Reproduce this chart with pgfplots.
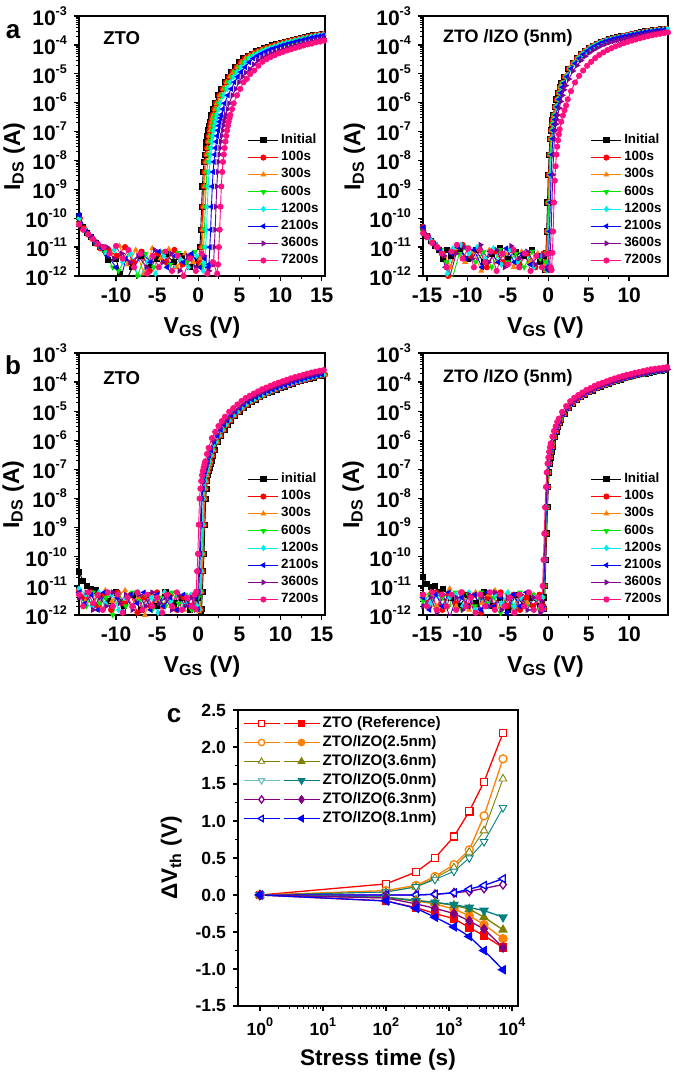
\documentclass[border=0pt]{standalone}
\usepackage{pgfplots}
\pgfplotsset{compat=1.18}
\usepackage{fontspec}
\setmainfont{Liberation Sans}

\definecolor{corange}{RGB}{255,128,0}
\definecolor{cgreen}{RGB}{0,230,0}
\definecolor{ccyan}{RGB}{0,240,240}
\definecolor{cblue}{RGB}{0,0,255}
\definecolor{cpurple}{RGB}{128,0,144}
\definecolor{cpink}{RGB}{255,16,128}
\definecolor{colive}{RGB}{128,128,0}
\definecolor{cteal}{RGB}{0,128,128}
\definecolor{cteallight}{RGB}{110,190,190}
\definecolor{cpurp}{RGB}{128,0,128}

\pgfkeys{/pgf/number format/assume math mode=true}

% small raised exponent for the power-of-ten tick labels
\newcommand{\sups}[1]{\raisebox{0.9ex}{\fontsize{6.3}{6.3}\selectfont #1}}

\pgfplotsset{
  s0/.style={color=black, mark=square*},
  s1/.style={color=red, mark=*},
  s2/.style={color=corange, mark=triangle*},
  s3/.style={color=cgreen, mark=triangle*, mark options={rotate=180}},
  s4/.style={color=ccyan, mark=diamond*},
  s5/.style={color=cblue, mark=triangle*, mark options={rotate=90}},
  s6/.style={color=cpurple, mark=triangle*, mark options={rotate=-90}},
  s7/.style={color=cpink, mark=*},
}

\begin{document}
\begin{tikzpicture}
\useasboundingbox (0,0) rectangle (337pt,-536pt);

\node[font=\bfseries\fontsize{13}{14}\selectfont] at (6.5pt,-16pt) {a};
\node[font=\bfseries\fontsize{13}{14}\selectfont] at (6.5pt,-182.5pt) {b};
\node[font=\bfseries\fontsize{13}{14}\selectfont] at (87pt,-358pt) {c};

% ---------------- a, left: ZTO, positive bias stress
\begin{axis}[at={(39.5pt,-8pt)}, anchor=north west,
  scale only axis, width=123pt, height=130pt,
  xmin=-14.5, xmax=15.4, xtick={-10,-5,0,5,10,15}, minor x tick num=1,
  ymode=log, ymin=1e-12, ymax=1e-3,
  ytick={1e-12,1e-11,1e-10,1e-9,1e-8,1e-7,1e-6,1e-5,1e-4,1e-3},
  yticklabels={10\sups{-12},10\sups{-11},10\sups{-10},10\sups{-9},10\sups{-8},10\sups{-7},10\sups{-6},10\sups{-5},10\sups{-4},10\sups{-3}},
  tick pos=left, tick align=outside,
  axis line style={line width=0.9pt},
  major tick style={black, line width=0.7pt}, minor tick style={black, line width=0.5pt},
  major tick length=2.5pt, minor tick length=1.4pt,
  ticklabel style={font=\bfseries\fontsize{10.5}{12}\selectfont},
  label style={font=\bfseries\fontsize{11.5}{13}\selectfont},
  xlabel={V\textsubscript{GS} (V)}, ylabel={I\textsubscript{DS} (A)},
  ylabel style={at={(axis description cs:-0.264,0.46)}, anchor=center},
  every axis plot/.append style={line width=0.45pt, mark size=1.3pt},
  legend cell align=left,
  legend style={draw=none, fill=none, inner sep=0pt, at={(0.985,0.025)}, anchor=south east,
    font=\bfseries\fontsize{6.7}{7}\selectfont, row sep=0pt, nodes={inner sep=1.2pt}},
  legend image code/.code={\draw[mark repeat=2,mark phase=2,#1] plot coordinates {(0pt,0pt)(7.5pt,0pt)(15pt,0pt)};},
]
\node[anchor=west, font=\bfseries\fontsize{9.3}{10}\selectfont] at (rel axis cs:0.07,0.915) {ZTO};
\addplot[s0] coordinates {(-14.5,1.2e-10)(-14,5e-11)(-13.5,3e-11)(-13,2.2e-11)(-12.5,1.4e-11)(-12,1e-11)(-11,3.5e-12)(-10,4e-12)(-9.5,1.2e-12)(-9,5e-13)(-8,2e-12)(-7,5e-12)(-6,2.5e-12)(-5,4e-12)(-4,6e-12)(-3,3e-12)(-2,5e-12)(-1,2e-12)(0,4e-12)
(0.1,2.5e-12)(0.2,1e-11)(0.3,4e-11)(0.4,2.5e-10)(0.5,1.26e-9)(0.6,4e-9)(0.7,8.9e-9)(0.8,1.6e-8)(0.9,2.7e-8)(1,4.5e-8)(1.1,7.1e-8)(1.2,1.1e-7)(1.3,1.6e-7)(1.4,2.2e-7)(1.5,2.95e-7)(1.6,3.8e-7)(1.8,6e-7)(2,9.5e-7)(2.4,1.8e-6)(2.8,3e-6)(3.2,5.1e-6)(3.6,7.9e-6)(4,1.15e-5)(4.5,1.7e-5)(5,2.5e-5)(5.5,3.4e-5)(6,4.2e-5)(6.5,5e-5)(7,5.9e-5)(7.5,6.8e-5)(8,7.6e-5)(8.5,8.5e-5)(9,9.5e-5)(9.5,1.05e-4)(10,1.15e-4)(10.5,1.26e-4)(11,1.38e-4)(11.5,1.48e-4)(12,1.62e-4)(12.5,1.74e-4)(13,1.86e-4)(13.5,2e-4)(14,2.14e-4)(14.5,2.24e-4)(15,2.34e-4)(15.5,2.45e-4)};
\addlegendentry{Initial}
\addplot[s1] coordinates {(-14.4,1e-10)(-13.9,4.5e-11)(-13.4,2.8e-11)(-12.9,2e-11)(-12.4,1.3e-11)(-11.9,9e-12)(-10.9,8e-12)(-9.9,5e-12)(-8.9,1e-11)(-7.9,3e-12)(-6.9,7e-12)(-5.9,1.5e-12)(-4.9,6e-12)(-3.9,3e-12)(-2.9,8e-12)(-1.9,2.5e-12)(-0.9,5e-12)(0.1,3e-12)
(0.25,2.5e-12)(0.35,1e-11)(0.45,4e-11)(0.55,2.5e-10)(0.65,1.26e-9)(0.75,4e-9)(0.85,8.9e-9)(0.95,1.6e-8)(1.05,2.7e-8)(1.15,4.5e-8)(1.25,7.1e-8)(1.35,1.1e-7)(1.45,1.6e-7)(1.55,2.2e-7)(1.65,2.95e-7)(1.75,3.8e-7)(1.95,6e-7)(2.15,9.5e-7)(2.55,1.8e-6)(2.95,3e-6)(3.35,5.1e-6)(3.75,7.9e-6)(4.15,1.15e-5)(4.65,1.7e-5)(5.15,2.5e-5)(5.65,3.4e-5)(6.15,4.2e-5)(6.65,5e-5)(7.15,5.9e-5)(7.65,6.8e-5)(8.15,7.6e-5)(8.65,8.5e-5)(9.15,9.5e-5)(9.65,1.05e-4)(10.15,1.15e-4)(10.65,1.26e-4)(11.15,1.38e-4)(11.65,1.48e-4)(12.15,1.62e-4)(12.65,1.74e-4)(13.15,1.86e-4)(13.65,2e-4)(14.15,2.14e-4)(14.65,2.24e-4)(15.15,2.34e-4)(15.65,2.45e-4)};
\addlegendentry{100s}
\addplot[s2] coordinates {(-14.5,8e-11)(-14,4e-11)(-13.3,2.5e-11)(-12.8,1.8e-11)(-12.2,1.2e-11)(-11.6,9e-12)(-10.6,6e-12)(-9.6,1.1e-11)(-8.6,2.5e-12)(-7.6,8e-12)(-6.6,1.2e-12)(-5.6,9e-12)(-4.6,4e-12)(-3.6,8.5e-12)(-2.6,2e-12)(-1.6,6e-12)(-0.6,3e-12)(0.2,4e-12)
(0.35,2.5e-12)(0.45,1e-11)(0.55,4e-11)(0.65,2.5e-10)(0.75,1.26e-9)(0.85,4e-9)(0.95,8.9e-9)(1.05,1.6e-8)(1.15,2.7e-8)(1.25,4.5e-8)(1.35,7.1e-8)(1.45,1.1e-7)(1.55,1.6e-7)(1.65,2.2e-7)(1.75,2.95e-7)(1.85,3.8e-7)(2.05,6e-7)(2.25,9.5e-7)(2.65,1.8e-6)(3.05,3e-6)(3.45,5.1e-6)(3.85,7.9e-6)(4.25,1.15e-5)(4.75,1.7e-5)(5.25,2.5e-5)(5.75,3.4e-5)(6.25,4.2e-5)(6.75,5e-5)(7.25,5.9e-5)(7.75,6.8e-5)(8.25,7.6e-5)(8.75,8.5e-5)(9.25,9.5e-5)(9.75,1.05e-4)(10.25,1.15e-4)(10.75,1.26e-4)(11.25,1.38e-4)(11.75,1.48e-4)(12.25,1.62e-4)(12.75,1.74e-4)(13.25,1.86e-4)(13.75,2e-4)(14.25,2.14e-4)(14.75,2.24e-4)(15.25,2.34e-4)(15.75,2.45e-4)};
\addlegendentry{300s}
\addplot[s3] coordinates {(-14.5,9e-11)(-13.8,4e-11)(-13.2,2.4e-11)(-12.6,1.6e-11)(-12,1e-11)(-11.4,7e-12)(-10.4,2e-12)(-9.7,1.5e-12)(-8.4,7e-12)(-7.4,1e-12)(-6.4,6e-12)(-5.4,2e-12)(-4.4,7e-12)(-3.4,2.5e-12)(-2.4,6.5e-12)(-1.4,3e-12)(-0.4,7e-12)(0.4,2e-12)
(0.55,2.5e-12)(0.65,1e-11)(0.75,4e-11)(0.85,2.5e-10)(0.95,1.26e-9)(1.05,4e-9)(1.15,8.9e-9)(1.25,1.6e-8)(1.35,2.7e-8)(1.45,4.5e-8)(1.55,7.1e-8)(1.65,1.1e-7)(1.75,1.6e-7)(1.85,2.2e-7)(1.95,2.95e-7)(2.05,3.8e-7)(2.25,6e-7)(2.45,9.5e-7)(2.85,1.8e-6)(3.25,3e-6)(3.65,5.1e-6)(4.05,7.9e-6)(4.45,1.15e-5)(4.95,1.7e-5)(5.45,2.5e-5)(5.95,3.4e-5)(6.45,4.2e-5)(6.95,5e-5)(7.45,5.9e-5)(7.95,6.8e-5)(8.45,7.6e-5)(8.95,8.5e-5)(9.45,9.5e-5)(9.95,1.05e-4)(10.45,1.15e-4)(10.95,1.26e-4)(11.45,1.38e-4)(11.95,1.48e-4)(12.45,1.62e-4)(12.95,1.74e-4)(13.45,1.86e-4)(13.95,2e-4)(14.45,2.14e-4)(14.95,2.24e-4)(15.45,2.34e-4)};
\addlegendentry{600s}
\addplot[s4] coordinates {(-14.5,1e-10)(-13.7,3.8e-11)(-13.1,2.3e-11)(-12.5,1.5e-11)(-11.8,1e-11)(-11.2,6e-12)(-10.2,8e-12)(-9.2,3e-12)(-8.2,6e-12)(-7.2,8e-13)(-6.2,3e-12)(-5.2,1.2e-12)(-4.2,5e-12)(-3.2,1.5e-12)(-2.2,4e-12)(-1.2,2e-12)(-0.2,5e-12)(0.6,1.5e-12)(0.7,3e-12)
(0.8,2.5e-12)(0.9,1e-11)(1,4e-11)(1.1,2.5e-10)(1.2,1.26e-9)(1.3,4e-9)(1.4,8.9e-9)(1.5,1.6e-8)(1.6,2.7e-8)(1.7,4.5e-8)(1.8,7.1e-8)(1.9,1.1e-7)(2,1.6e-7)(2.1,2.2e-7)(2.2,2.95e-7)(2.3,3.8e-7)(2.5,6e-7)(2.7,9.5e-7)(3.1,1.8e-6)(3.5,3e-6)(3.9,5.1e-6)(4.3,7.9e-6)(4.7,1.15e-5)(5.2,1.7e-5)(5.7,2.5e-5)(6.2,3.4e-5)(6.7,4.2e-5)(7.2,5e-5)(7.7,5.9e-5)(8.2,6.8e-5)(8.7,7.6e-5)(9.2,8.5e-5)(9.7,9.5e-5)(10.2,1.05e-4)(10.7,1.15e-4)(11.2,1.26e-4)(11.7,1.38e-4)(12.2,1.48e-4)(12.7,1.62e-4)(13.2,1.74e-4)(13.7,1.86e-4)(14.2,2e-4)(14.7,2.14e-4)(15.2,2.24e-4)(15.7,2.34e-4)};
\addlegendentry{1200s}
\addplot[s5] coordinates {(-14.5,1.3e-10)(-13.6,3.5e-11)(-13,2.2e-11)(-12.3,1.3e-11)(-11.7,9e-12)(-11,5e-12)(-10,2e-12)(-9.4,8e-13)(-8.8,4e-12)(-7.8,2e-12)(-6.8,6e-12)(-5.8,3e-12)(-4.8,7e-12)(-3.8,2e-12)(-2.8,5e-12)(-1.8,3e-12)(-0.8,6e-12)(0.2,2e-12)(0.8,4e-12)(1.2,2e-12)
(1.3,2.5e-12)(1.4,1e-11)(1.5,4e-11)(1.6,2.5e-10)(1.7,1.26e-9)(1.8,4e-9)(1.9,8.9e-9)(2,1.6e-8)(2.1,2.7e-8)(2.2,4.5e-8)(2.3,7.1e-8)(2.4,1.1e-7)(2.5,1.6e-7)(2.6,2.2e-7)(2.7,2.95e-7)(2.8,3.8e-7)(3,6e-7)(3.2,9.5e-7)(3.6,1.8e-6)(4,3e-6)(4.4,5.1e-6)(4.8,7.9e-6)(5.2,1.15e-5)(5.7,1.7e-5)(6.2,2.5e-5)(6.7,3.4e-5)(7.2,4.2e-5)(7.7,5e-5)(8.2,5.9e-5)(8.7,6.8e-5)(9.2,7.6e-5)(9.7,8.5e-5)(10.2,9.5e-5)(10.7,1.05e-4)(11.2,1.15e-4)(11.7,1.26e-4)(12.2,1.38e-4)(12.7,1.48e-4)(13.2,1.62e-4)(13.7,1.74e-4)(14.2,1.86e-4)(14.7,2e-4)(15.2,2.14e-4)(15.7,2.24e-4)};
\addlegendentry{2100s}
\addplot[s6] coordinates {(-14.5,7e-11)(-13.9,4e-11)(-13.2,2.6e-11)(-12.6,1.7e-11)(-11.9,1.1e-11)(-11.1,1e-11)(-10.3,4e-12)(-9.3,6e-12)(-8.3,3e-12)(-7.3,5e-12)(-6.3,2e-12)(-5.3,8e-12)(-4.3,3e-12)(-3.3,6e-12)(-2.3,1.5e-12)(-1.3,5e-12)(-0.3,2e-12)(0.7,5e-12)(1.3,1.5e-12)(1.75,3e-12)
(1.85,2.5e-12)(1.95,1e-11)(2.05,4e-11)(2.15,2.5e-10)(2.25,1.26e-9)(2.35,4e-9)(2.45,8.9e-9)(2.55,1.6e-8)(2.65,2.7e-8)(2.75,4.5e-8)(2.85,7.1e-8)(2.95,1.1e-7)(3.05,1.6e-7)(3.15,2.2e-7)(3.25,2.95e-7)(3.35,3.8e-7)(3.55,6e-7)(3.75,9.5e-7)(4.15,1.8e-6)(4.55,3e-6)(4.95,5.1e-6)(5.35,7.9e-6)(5.75,1.1e-5)(6.25,1.45e-5)(6.75,2.1e-5)(7.25,2.9e-5)(7.75,3.6e-5)(8.25,4.25e-5)(8.75,5e-5)(9.25,5.8e-5)(9.75,6.5e-5)(10.25,7.2e-5)(10.75,8.1e-5)(11.25,8.9e-5)(11.75,9.8e-5)(12.25,1.07e-4)(12.75,1.17e-4)(13.25,1.26e-4)(13.75,1.38e-4)(14.25,1.48e-4)(14.75,1.58e-4)(15.25,1.7e-4)(15.75,1.82e-4)};
\addlegendentry{3600s}
\addplot[s7] coordinates {(-14.5,6e-11)(-14,4e-11)(-13.4,2.8e-11)(-12.8,1.9e-11)(-12.2,1.3e-11)(-11.5,1e-11)(-10.8,6e-12)(-10,1.1e-11)(-9.2,4e-12)(-8.5,8e-12)(-7.8,2e-12)(-7,6e-12)(-6.2,1.2e-12)(-5.5,5e-12)(-4.8,2e-12)(-4,7e-12)(-3.2,1.5e-12)(-2.5,5e-12)(-1.8,1e-12)(-1,4e-12)(-0.3,1.5e-12)(0.4,6e-12)(1.1,1.2e-12)(1.8,3e-12)(2.3,1.2e-12)
(2.4,2.5e-12)(2.5,1e-11)(2.6,4e-11)(2.7,2.5e-10)(2.8,1.26e-9)(2.9,4e-9)(3,8.9e-9)(3.1,1.6e-8)(3.2,2.7e-8)(3.3,4.5e-8)(3.4,7.1e-8)(3.5,1.1e-7)(3.6,1.6e-7)(3.7,2.2e-7)(3.8,2.95e-7)(3.9,3.8e-7)(4.1,6e-7)(4.3,9.5e-7)(4.7,1.8e-6)(5.1,3e-6)(5.5,5.1e-6)(5.9,6.7e-6)(6.3,9.8e-6)(6.8,1.3e-5)(7.3,1.9e-5)(7.8,2.6e-5)(8.3,3.2e-5)(8.8,3.8e-5)(9.3,4.4e-5)(9.8,5.1e-5)(10.3,5.7e-5)(10.8,6.4e-5)(11.3,7.1e-5)(11.8,7.9e-5)(12.3,8.6e-5)(12.8,9.5e-5)(13.3,1.04e-4)(13.8,1.11e-4)(14.3,1.22e-4)(14.8,1.3e-4)(15.3,1.4e-4)(15.8,1.5e-4)};
\addlegendentry{7200s}
\end{axis}

% ---------------- a, right: ZTO/IZO, positive bias stress
\begin{axis}[at={(211.5pt,-8pt)}, anchor=north west,
  scale only axis, width=122.5pt, height=130pt,
  xmin=-15.5, xmax=14.8, xtick={-15,-10,-5,0,5,10}, minor x tick num=1,
  ymode=log, ymin=1e-12, ymax=1e-3,
  ytick={1e-12,1e-11,1e-10,1e-9,1e-8,1e-7,1e-6,1e-5,1e-4,1e-3},
  yticklabels={10\sups{-12},10\sups{-11},10\sups{-10},10\sups{-9},10\sups{-8},10\sups{-7},10\sups{-6},10\sups{-5},10\sups{-4},10\sups{-3}},
  tick pos=left, tick align=outside,
  axis line style={line width=0.9pt},
  major tick style={black, line width=0.7pt}, minor tick style={black, line width=0.5pt},
  major tick length=2.5pt, minor tick length=1.4pt,
  ticklabel style={font=\bfseries\fontsize{10.5}{12}\selectfont},
  label style={font=\bfseries\fontsize{11.5}{13}\selectfont},
  xlabel={V\textsubscript{GS} (V)}, ylabel={I\textsubscript{DS} (A)},
  ylabel style={at={(axis description cs:-0.28,0.46)}, anchor=center},
  every axis plot/.append style={line width=0.45pt, mark size=1.3pt},
  legend cell align=left,
  legend style={draw=none, fill=none, inner sep=0pt, at={(0.985,0.025)}, anchor=south east,
    font=\bfseries\fontsize{6.7}{7}\selectfont, row sep=0pt, nodes={inner sep=1.2pt}},
  legend image code/.code={\draw[mark repeat=2,mark phase=2,#1] plot coordinates {(0pt,0pt)(7.5pt,0pt)(15pt,0pt)};},
]
\node[anchor=west, font=\bfseries\fontsize{9}{10}\selectfont] at (rel axis cs:0.053,0.915) {ZTO /IZO (5nm)};
\addplot[s0] coordinates {(-15.5,4.5e-11)(-15,2.5e-11)(-14.5,1.6e-11)(-14,1.1e-11)(-13.5,8e-12)(-13,4e-12)(-12.5,8e-12)(-12,5e-12)(-11,9e-12)(-10,4e-12)(-9,8e-12)(-8,3e-12)(-7,6e-12)(-6,9e-12)(-5,4e-12)(-4,7e-12)(-3,5e-12)(-2,8e-12)(-1,3e-12)(-0.6,5e-12)
(-0.4,1.6e-12)(-0.3,6.3e-12)(-0.2,3.5e-11)(-0.1,3.5e-10)(0,3.2e-9)(0.1,1.6e-8)(0.2,5.6e-8)(0.3,1.1e-7)(0.4,1.8e-7)(0.5,2.6e-7)(0.6,3.7e-7)(0.8,7.1e-7)(1,1.3e-6)(1.2,2.2e-6)(1.4,3.4e-6)(1.6,4.7e-6)(2,7.9e-6)(2.5,1.5e-5)(3,2.3e-5)(3.5,3.4e-5)(4,4.7e-5)(4.5,6.2e-5)(5,7.8e-5)(5.5,9.3e-5)(6,1.1e-4)(6.5,1.26e-4)(7,1.41e-4)(7.5,1.55e-4)(8,1.7e-4)(8.5,1.82e-4)(9,1.95e-4)(9.5,2.1e-4)(10,2.24e-4)(10.5,2.4e-4)(11,2.57e-4)(11.5,2.7e-4)(12,2.9e-4)(12.5,3e-4)(13,3.16e-4)(13.5,3.3e-4)(14,3.4e-4)(14.5,3.55e-4)(15,3.63e-4)};
\addlegendentry{Initial}
\addplot[s1] coordinates {(-15.5,5e-11)(-14.9,2.4e-11)(-14.3,1.5e-11)(-13.7,1e-11)(-13.1,6e-12)(-12.4,1e-12)(-11.6,7e-12)(-10.6,1.2e-11)(-9.6,5e-12)(-8.6,9e-12)(-7.6,2e-12)(-6.6,7e-12)(-5.6,3e-12)(-4.6,8e-12)(-3.6,2.5e-12)(-2.6,6e-12)(-1.6,2e-12)(-0.6,6e-12)
(-0.35,1.6e-12)(-0.25,6.3e-12)(-0.15,3.5e-11)(-0.05,3.5e-10)(0.05,3.2e-9)(0.15,1.6e-8)(0.25,5.6e-8)(0.35,1.1e-7)(0.45,1.8e-7)(0.55,2.6e-7)(0.65,3.7e-7)(0.85,7.1e-7)(1.05,1.3e-6)(1.25,2.2e-6)(1.45,3.4e-6)(1.65,4.7e-6)(2.05,7.9e-6)(2.55,1.5e-5)(3.05,2.3e-5)(3.55,3.4e-5)(4.05,4.7e-5)(4.55,6.2e-5)(5.05,7.8e-5)(5.55,9.3e-5)(6.05,1.1e-4)(6.55,1.26e-4)(7.05,1.41e-4)(7.55,1.55e-4)(8.05,1.7e-4)(8.55,1.82e-4)(9.05,1.95e-4)(9.55,2.1e-4)(10.05,2.24e-4)(10.55,2.4e-4)(11.05,2.57e-4)(11.55,2.7e-4)(12.05,2.9e-4)(12.55,3e-4)(13.05,3.16e-4)(13.55,3.3e-4)(14.05,3.4e-4)(14.55,3.55e-4)(15.05,3.63e-4)};
\addlegendentry{100s}
\addplot[s2] coordinates {(-15.5,4e-11)(-14.8,2.2e-11)(-14.2,1.4e-11)(-13.5,9e-12)(-12.8,5e-12)(-12.1,2e-12)(-11.3,9e-12)(-10.3,3e-12)(-9.3,7e-12)(-8.3,1.5e-12)(-7.3,8e-12)(-6.3,3e-12)(-5.3,6e-12)(-4.3,2e-12)(-3.3,7e-12)(-2.3,3e-12)(-1.3,6e-12)(-0.4,2.5e-12)
(-0.3,1.6e-12)(-0.2,6.3e-12)(-0.1,3.5e-11)(0,3.5e-10)(0.1,3.2e-9)(0.2,1.6e-8)(0.3,5.6e-8)(0.4,1.1e-7)(0.5,1.8e-7)(0.6,2.6e-7)(0.7,3.7e-7)(0.9,7.1e-7)(1.1,1.3e-6)(1.3,2.2e-6)(1.5,3.4e-6)(1.7,4.7e-6)(2.1,7.9e-6)(2.6,1.5e-5)(3.1,2.3e-5)(3.6,3.4e-5)(4.1,4.7e-5)(4.6,6.2e-5)(5.1,7.8e-5)(5.6,9.3e-5)(6.1,1.1e-4)(6.6,1.26e-4)(7.1,1.41e-4)(7.6,1.55e-4)(8.1,1.7e-4)(8.6,1.82e-4)(9.1,1.95e-4)(9.6,2.1e-4)(10.1,2.24e-4)(10.6,2.4e-4)(11.1,2.57e-4)(11.6,2.7e-4)(12.1,2.9e-4)(12.6,3e-4)(13.1,3.16e-4)(13.6,3.3e-4)(14.1,3.4e-4)(14.6,3.55e-4)(15.1,3.63e-4)};
\addlegendentry{300s}
\addplot[s3] coordinates {(-15.5,3.5e-11)(-14.7,2e-11)(-14,1.3e-11)(-13.3,8e-12)(-12.6,3e-12)(-11.9,8e-13)(-11,6e-12)(-10,1e-11)(-9,3e-12)(-8,7e-12)(-7,2e-12)(-6,8e-12)(-5,3e-12)(-4,6e-12)(-3,2e-12)(-2,7e-12)(-1,4e-12)(-0.3,3e-12)
(-0.25,1.6e-12)(-0.15,6.3e-12)(-0.05,3.5e-11)(0.05,3.5e-10)(0.15,3.2e-9)(0.25,1.6e-8)(0.35,5.6e-8)(0.45,1.1e-7)(0.55,1.8e-7)(0.65,2.6e-7)(0.75,3.7e-7)(0.95,7.1e-7)(1.15,1.3e-6)(1.35,2.2e-6)(1.55,3.4e-6)(1.75,4.7e-6)(2.15,7.9e-6)(2.65,1.5e-5)(3.15,2.3e-5)(3.65,3.4e-5)(4.15,4.7e-5)(4.65,6.2e-5)(5.15,7.8e-5)(5.65,9.3e-5)(6.15,1.1e-4)(6.65,1.26e-4)(7.15,1.41e-4)(7.65,1.55e-4)(8.15,1.7e-4)(8.65,1.82e-4)(9.15,1.95e-4)(9.65,2.1e-4)(10.15,2.24e-4)(10.65,2.4e-4)(11.15,2.57e-4)(11.65,2.7e-4)(12.15,2.9e-4)(12.65,3e-4)(13.15,3.16e-4)(13.65,3.3e-4)(14.15,3.4e-4)(14.65,3.55e-4)(15.15,3.63e-4)};
\addlegendentry{600s}
\addplot[s4] coordinates {(-15.5,4e-11)(-14.6,1.9e-11)(-13.9,1.2e-11)(-13.2,7e-12)(-12.5,1.2e-12)(-11.8,9e-12)(-10.8,1.2e-11)(-9.8,6e-12)(-8.8,1e-11)(-7.8,4e-12)(-6.8,9e-12)(-5.8,2.5e-12)(-4.8,8e-12)(-3.8,3e-12)(-2.8,7e-12)(-1.8,2e-12)(-0.8,5e-12)(-0.2,2e-12)
(-0.15,1.6e-12)(-0.05,6.3e-12)(0.05,3.5e-11)(0.15,3.5e-10)(0.25,3.2e-9)(0.35,1.6e-8)(0.45,5.6e-8)(0.55,1.1e-7)(0.65,1.8e-7)(0.75,2.6e-7)(0.85,3.7e-7)(1.05,7.1e-7)(1.25,1.3e-6)(1.45,2.2e-6)(1.65,3.4e-6)(1.85,4.7e-6)(2.25,7.9e-6)(2.75,1.5e-5)(3.25,2.3e-5)(3.75,3.4e-5)(4.25,4.7e-5)(4.75,6.2e-5)(5.25,7.8e-5)(5.75,9.3e-5)(6.25,1.1e-4)(6.75,1.26e-4)(7.25,1.41e-4)(7.75,1.55e-4)(8.25,1.7e-4)(8.75,1.82e-4)(9.25,1.95e-4)(9.75,2.1e-4)(10.25,2.24e-4)(10.75,2.4e-4)(11.25,2.57e-4)(11.75,2.7e-4)(12.25,2.9e-4)(12.75,3e-4)(13.25,3.16e-4)(13.75,3.3e-4)(14.25,3.4e-4)(14.75,3.55e-4)(15.25,3.63e-4)};
\addlegendentry{1200s}
\addplot[s5] coordinates {(-15.5,4.8e-11)(-14.8,2.3e-11)(-14.1,1.3e-11)(-13.4,8e-12)(-12.7,2e-12)(-12,6e-12)(-11.2,1e-11)(-10.2,4e-12)(-9.2,8e-12)(-8.2,2e-12)(-7.2,7e-12)(-6.2,3e-12)(-5.2,9e-12)(-4.2,3e-12)(-3.2,6e-12)(-2.2,2.5e-12)(-1.2,5e-12)(-0.2,2e-12)
(-0.05,1.6e-12)(0.05,6.3e-12)(0.15,3.5e-11)(0.25,3.5e-10)(0.35,3.2e-9)(0.45,1.6e-8)(0.55,5.6e-8)(0.65,1.1e-7)(0.75,1.8e-7)(0.85,2.6e-7)(0.95,3.7e-7)(1.15,7.1e-7)(1.35,1.3e-6)(1.55,2.2e-6)(1.75,3.4e-6)(1.95,4.7e-6)(2.35,7.9e-6)(2.85,1.5e-5)(3.35,2.3e-5)(3.85,3.4e-5)(4.35,4.7e-5)(4.85,6.2e-5)(5.35,7.8e-5)(5.85,9.3e-5)(6.35,1.1e-4)(6.85,1.26e-4)(7.35,1.41e-4)(7.85,1.55e-4)(8.35,1.7e-4)(8.85,1.82e-4)(9.35,1.95e-4)(9.85,2.1e-4)(10.35,2.24e-4)(10.85,2.4e-4)(11.35,2.57e-4)(11.85,2.7e-4)(12.35,2.9e-4)(12.85,3e-4)(13.35,3.16e-4)(13.85,3.3e-4)(14.35,3.4e-4)(14.85,3.55e-4)};
\addlegendentry{2100s}
\addplot[s6] coordinates {(-15.5,3.8e-11)(-14.9,2.2e-11)(-14.2,1.3e-11)(-13.6,9e-12)(-12.9,5e-12)(-12.2,9e-13)(-11.4,6e-12)(-10.4,1e-11)(-9.4,4e-12)(-8.4,1.2e-11)(-7.4,3e-12)(-6.4,8e-12)(-5.4,2e-12)(-4.6,1.1e-11)(-3.6,4e-12)(-2.6,7e-12)(-1.6,2.5e-12)(-0.6,5e-12)(0,2e-12)
(0.15,1.6e-12)(0.25,6.3e-12)(0.35,3.5e-11)(0.45,3.5e-10)(0.55,3.2e-9)(0.65,1.6e-8)(0.75,5.6e-8)(0.85,1.1e-7)(0.95,1.8e-7)(1.05,2.6e-7)(1.15,3.7e-7)(1.35,6.5e-7)(1.55,1.1e-6)(1.75,1.8e-6)(1.95,2.8e-6)(2.15,3.9e-6)(2.55,6.6e-6)(3.05,1.25e-5)(3.55,1.95e-5)(4.05,2.9e-5)(4.55,4e-5)(5.05,5.3e-5)(5.55,6.6e-5)(6.05,7.9e-5)(6.55,9.4e-5)(7.05,1.07e-4)(7.55,1.2e-4)(8.05,1.32e-4)(8.55,1.45e-4)(9.05,1.55e-4)(9.55,1.66e-4)(10.05,1.79e-4)(10.55,1.9e-4)(11.05,2.04e-4)(11.55,2.18e-4)(12.05,2.3e-4)(12.55,2.46e-4)(13.05,2.55e-4)(13.55,2.69e-4)(14.05,2.8e-4)(14.55,2.9e-4)(15.05,3.02e-4)};
\addlegendentry{3600s}
\addplot[s7] coordinates {(-15.5,3e-11)(-15,2.2e-11)(-14.4,1.4e-11)(-13.8,1e-11)(-13.2,6e-12)(-12.6,2e-12)(-12,7e-12)(-11.3,1.2e-11)(-10.6,4e-12)(-9.9,9e-12)(-9.2,2e-12)(-8.5,8e-12)(-7.8,3e-12)(-7.1,7e-12)(-6.4,1.5e-12)(-5.7,6e-12)(-5,2.5e-12)(-4.3,8e-12)(-3.6,2e-12)(-2.9,6e-12)(-2.2,1.5e-12)(-1.5,5e-12)(-0.8,2e-12)(-0.1,6e-12)(0.3,2e-12)
(0.4,1.6e-12)(0.5,6.3e-12)(0.6,3.5e-11)(0.7,3.5e-10)(0.8,2e-9)(0.9,6.3e-9)(1,1.6e-8)(1.1,3e-8)(1.2,5e-8)(1.3,8e-8)(1.4,1.2e-7)(1.6,2.2e-7)(1.8,3.6e-7)(2,5.5e-7)(2.2,8e-7)(2.4,1.3e-6)(2.8,2.5e-6)(3.3,5e-6)(3.8,8.5e-6)(4.3,1.3e-5)(4.8,1.9e-5)(5.3,2.6e-5)(5.8,3.5e-5)(6.3,4.5e-5)(6.8,5.5e-5)(7.3,6.6e-5)(7.8,7.7e-5)(8.3,8.9e-5)(8.8,1.01e-4)(9.3,1.14e-4)(9.8,1.27e-4)(10.3,1.4e-4)(10.8,1.53e-4)(11.3,1.68e-4)(11.8,1.83e-4)(12.3,1.98e-4)(12.8,2.13e-4)(13.3,2.28e-4)(13.8,2.42e-4)(14.3,2.56e-4)(14.8,2.7e-4)(15.3,2.8e-4)};
\addlegendentry{7200s}
\end{axis}

% ---------------- b, left: ZTO, negative bias stress
\begin{axis}[at={(39.5pt,-176.5pt)}, anchor=north west,
  scale only axis, width=123pt, height=131pt,
  xmin=-14.5, xmax=15.4, xtick={-10,-5,0,5,10,15}, minor x tick num=1,
  ymode=log, ymin=1e-12, ymax=1e-3,
  ytick={1e-12,1e-11,1e-10,1e-9,1e-8,1e-7,1e-6,1e-5,1e-4,1e-3},
  yticklabels={10\sups{-12},10\sups{-11},10\sups{-10},10\sups{-9},10\sups{-8},10\sups{-7},10\sups{-6},10\sups{-5},10\sups{-4},10\sups{-3}},
  tick pos=left, tick align=outside,
  axis line style={line width=0.9pt},
  major tick style={black, line width=0.7pt}, minor tick style={black, line width=0.5pt},
  major tick length=2.5pt, minor tick length=1.4pt,
  ticklabel style={font=\bfseries\fontsize{10.5}{12}\selectfont},
  label style={font=\bfseries\fontsize{11.5}{13}\selectfont},
  xlabel={V\textsubscript{GS} (V)}, ylabel={I\textsubscript{DS} (A)},
  ylabel style={at={(axis description cs:-0.268,0.46)}, anchor=center},
  every axis plot/.append style={line width=0.45pt, mark size=1.3pt},
  legend cell align=left,
  legend style={draw=none, fill=none, inner sep=0pt, at={(0.985,0.025)}, anchor=south east,
    font=\bfseries\fontsize{6.7}{7}\selectfont, row sep=0pt, nodes={inner sep=1.2pt}},
  legend image code/.code={\draw[mark repeat=2,mark phase=2,#1] plot coordinates {(0pt,0pt)(7.5pt,0pt)(15pt,0pt)};},
]
\node[anchor=west, font=\bfseries\fontsize{9.3}{10}\selectfont] at (rel axis cs:0.07,0.905) {ZTO};
\addplot[s0] coordinates {(-14.5,3e-11)(-14,1.5e-11)(-13.5,1e-11)(-13,8e-12)(-12.5,7e-12)(-12,5e-12)(-11,3e-12)(-10,6e-12)(-9,2e-12)(-8,5e-12)(-7,1.5e-12)(-6,5e-12)(-5,2e-12)(-4,6e-12)(-3,2.5e-12)(-2,4e-12)(-1,1.5e-12)(0,4e-12)(0.3,1.2e-12)
(0.4,1.6e-12)(0.5,6.3e-12)(0.6,3.2e-11)(0.7,1.26e-10)(0.8,1.26e-9)(0.9,1e-8)(1,2.2e-8)(1.1,4e-8)(1.2,6.3e-8)(1.3,8.9e-8)(1.4,1.17e-7)(1.5,1.5e-7)(1.6,1.9e-7)(1.8,3e-7)(2,4.6e-7)(2.4,8.9e-7)(2.8,1.45e-6)(3.2,2.3e-6)(3.6,3.4e-6)(4,4.8e-6)(4.5,7.1e-6)(5,9.5e-6)(5.5,1.26e-5)(6,1.66e-5)(6.5,2.1e-5)(7,2.5e-5)(7.5,3e-5)(8,3.55e-5)(8.5,4.2e-5)(9,4.8e-5)(9.5,5.5e-5)(10,6.3e-5)(10.5,7.1e-5)(11,7.9e-5)(11.5,8.9e-5)(12,1e-4)(12.5,1.1e-4)(13,1.2e-4)(13.5,1.32e-4)(14,1.45e-4)(14.5,1.58e-4)(15,1.7e-4)(15.5,1.82e-4)};
\addlegendentry{initial}
\addplot[s1] coordinates {(-14.5,7e-12)(-13.8,4e-12)(-13,6e-12)(-12.2,2e-12)(-11.4,5e-12)(-10.6,1.5e-12)(-9.8,6e-12)(-9,2.5e-12)(-8.2,5e-12)(-7.4,1.2e-12)(-6.6,4e-12)(-5.8,2e-12)(-5,6e-12)(-4.2,2e-12)(-3.4,5e-12)(-2.6,1.5e-12)(-1.8,4e-12)(-1,2e-12)(-0.2,5e-12)(0.2,1.5e-12)
(0.3,1.6e-12)(0.4,6.3e-12)(0.5,3.2e-11)(0.6,1.26e-10)(0.7,1.26e-9)(0.8,1e-8)(0.9,2.2e-8)(1,4e-8)(1.1,6.3e-8)(1.2,8.9e-8)(1.3,1.17e-7)(1.4,1.5e-7)(1.5,1.9e-7)(1.7,3e-7)(1.9,4.6e-7)(2.3,8.9e-7)(2.7,1.45e-6)(3.1,2.3e-6)(3.5,3.4e-6)(3.9,4.8e-6)(4.4,7.1e-6)(4.9,9.5e-6)(5.4,1.26e-5)(5.9,1.66e-5)(6.4,2.1e-5)(6.9,2.5e-5)(7.4,3e-5)(7.9,3.55e-5)(8.4,4.2e-5)(8.9,4.8e-5)(9.4,5.5e-5)(9.9,6.3e-5)(10.4,7.1e-5)(10.9,7.9e-5)(11.4,8.9e-5)(11.9,1e-4)(12.4,1.1e-4)(12.9,1.2e-4)(13.4,1.32e-4)(13.9,1.45e-4)(14.4,1.58e-4)(14.9,1.7e-4)(15.4,1.82e-4)};
\addlegendentry{100s}
\addplot[s2] coordinates {(-14.5,6e-12)(-13.7,3e-12)(-12.9,5e-12)(-12.1,1.5e-12)(-11.3,7e-12)(-10.5,3e-12)(-9.7,5e-12)(-8.9,7e-12)(-8.1,2e-12)(-7.3,4e-12)(-6.5,1e-12)(-5.7,5e-12)(-4.9,3e-12)(-4.1,6e-12)(-3.3,2e-12)(-2.5,5e-12)(-1.7,1.5e-12)(-0.9,4e-12)(-0.1,2e-12)(0.1,1.3e-12)
(0.25,1.6e-12)(0.35,6.3e-12)(0.45,3.2e-11)(0.55,1.26e-10)(0.65,1.26e-9)(0.75,1e-8)(0.85,2.2e-8)(0.95,4e-8)(1.05,6.3e-8)(1.15,8.9e-8)(1.25,1.17e-7)(1.35,1.5e-7)(1.45,1.9e-7)(1.65,3e-7)(1.85,4.6e-7)(2.25,8.9e-7)(2.65,1.45e-6)(3.05,2.3e-6)(3.45,3.4e-6)(3.85,4.8e-6)(4.35,7.1e-6)(4.85,9.5e-6)(5.35,1.26e-5)(5.85,1.66e-5)(6.35,2.1e-5)(6.85,2.5e-5)(7.35,3e-5)(7.85,3.55e-5)(8.35,4.2e-5)(8.85,4.8e-5)(9.35,5.5e-5)(9.85,6.3e-5)(10.35,7.1e-5)(10.85,7.9e-5)(11.35,8.9e-5)(11.85,1e-4)(12.35,1.1e-4)(12.85,1.2e-4)(13.35,1.32e-4)(13.85,1.45e-4)(14.35,1.58e-4)(14.85,1.7e-4)(15.35,1.82e-4)(15.85,1.95e-4)};
\addlegendentry{300s}
\addplot[s3] coordinates {(-14.5,5e-12)(-13.6,2e-12)(-12.8,6e-12)(-12,2.5e-12)(-11.2,4e-12)(-10.4,1e-12)(-9.6,5e-12)(-8.8,2e-12)(-8,6e-12)(-7.2,3e-12)(-6.4,5e-12)(-5.6,1.5e-12)(-4.8,4e-12)(-4,2e-12)(-3.2,6e-12)(-2.4,2.5e-12)(-1.6,5e-12)(-0.8,1.5e-12)(0,4e-12)
(0.15,1.6e-12)(0.25,6.3e-12)(0.35,3.2e-11)(0.45,1.26e-10)(0.55,1.26e-9)(0.65,1e-8)(0.75,2.2e-8)(0.85,4e-8)(0.95,6.3e-8)(1.05,8.9e-8)(1.15,1.17e-7)(1.25,1.5e-7)(1.35,1.9e-7)(1.55,3e-7)(1.75,4.6e-7)(2.15,8.9e-7)(2.55,1.45e-6)(2.95,2.3e-6)(3.35,3.4e-6)(3.75,4.8e-6)(4.25,7.1e-6)(4.75,9.5e-6)(5.25,1.26e-5)(5.75,1.66e-5)(6.25,2.1e-5)(6.75,2.5e-5)(7.25,3e-5)(7.75,3.55e-5)(8.25,4.2e-5)(8.75,4.8e-5)(9.25,5.5e-5)(9.75,6.3e-5)(10.25,7.1e-5)(10.75,7.9e-5)(11.25,8.9e-5)(11.75,1e-4)(12.25,1.1e-4)(12.75,1.2e-4)(13.25,1.32e-4)(13.75,1.45e-4)(14.25,1.58e-4)(14.75,1.7e-4)(15.25,1.82e-4)(15.75,1.95e-4)};
\addlegendentry{600s}
\addplot[s4] coordinates {(-14.5,8e-12)(-13.7,5e-12)(-12.9,2e-12)(-12.1,6e-12)(-11.3,2.5e-12)(-10.5,5e-12)(-9.7,1.5e-12)(-8.9,4e-12)(-8.1,2e-12)(-7.3,6e-12)(-6.5,2e-12)(-5.7,4e-12)(-4.9,1.2e-12)(-4.1,6e-12)(-3.3,3e-12)(-2.5,5e-12)(-1.7,2e-12)(-0.9,5e-12)(-0.1,2e-12)
(0.1,1.6e-12)(0.2,6.3e-12)(0.3,3.2e-11)(0.4,1.26e-10)(0.5,1.26e-9)(0.6,1e-8)(0.7,2.2e-8)(0.8,4e-8)(0.9,6.3e-8)(1,8.9e-8)(1.1,1.17e-7)(1.2,1.5e-7)(1.3,1.9e-7)(1.5,3e-7)(1.7,4.6e-7)(2.1,8.9e-7)(2.5,1.45e-6)(2.9,2.3e-6)(3.3,3.4e-6)(3.7,4.8e-6)(4.2,7.1e-6)(4.7,9.5e-6)(5.2,1.26e-5)(5.7,1.66e-5)(6.2,2.1e-5)(6.7,2.5e-5)(7.2,3e-5)(7.7,3.55e-5)(8.2,4.2e-5)(8.7,4.8e-5)(9.2,5.5e-5)(9.7,6.3e-5)(10.2,7.1e-5)(10.7,7.9e-5)(11.2,8.9e-5)(11.7,1e-4)(12.2,1.1e-4)(12.7,1.2e-4)(13.2,1.32e-4)(13.7,1.45e-4)(14.2,1.58e-4)(14.7,1.7e-4)(15.2,1.82e-4)(15.7,1.95e-4)};
\addlegendentry{1200s}
\addplot[s5] coordinates {(-14.5,6e-12)(-13.8,2.5e-12)(-13,5e-12)(-12.2,1.5e-12)(-11.4,6e-12)(-10.6,2e-12)(-9.8,4e-12)(-9,1.2e-12)(-8.2,5e-12)(-7.4,2.5e-12)(-6.6,6e-12)(-5.8,1.5e-12)(-5,5e-12)(-4.2,2e-12)(-3.4,4e-12)(-2.6,1.5e-12)(-1.8,5e-12)(-1,2e-12)(-0.2,4e-12)
(-0.05,1.6e-12)(0.05,6.3e-12)(0.15,3.2e-11)(0.25,1.26e-10)(0.35,1.26e-9)(0.45,1e-8)(0.55,2.2e-8)(0.65,4e-8)(0.75,6.3e-8)(0.85,8.9e-8)(0.95,1.17e-7)(1.05,1.5e-7)(1.15,1.9e-7)(1.35,3e-7)(1.55,4.6e-7)(1.95,8.9e-7)(2.35,1.45e-6)(2.75,2.3e-6)(3.15,3.4e-6)(3.55,4.8e-6)(4.05,7.1e-6)(4.55,9.5e-6)(5.05,1.26e-5)(5.55,1.66e-5)(6.05,2.1e-5)(6.55,2.5e-5)(7.05,3e-5)(7.55,3.55e-5)(8.05,4.2e-5)(8.55,4.8e-5)(9.05,5.5e-5)(9.55,6.3e-5)(10.05,7.1e-5)(10.55,7.9e-5)(11.05,8.9e-5)(11.55,1e-4)(12.05,1.1e-4)(12.55,1.2e-4)(13.05,1.32e-4)(13.55,1.45e-4)(14.05,1.58e-4)(14.55,1.7e-4)(15.05,1.82e-4)(15.55,1.95e-4)};
\addlegendentry{2100s}
\addplot[s6] coordinates {(-14.5,4e-12)(-13.6,6e-12)(-12.8,1.5e-12)(-12,4e-12)(-11.2,2e-12)(-10.4,6e-12)(-9.6,2.5e-12)(-8.8,5e-12)(-8,1.5e-12)(-7.2,5e-12)(-6.4,2e-12)(-5.6,6e-12)(-4.8,2.5e-12)(-4,4e-12)(-3.2,1.5e-12)(-2.4,5e-12)(-1.6,2e-12)(-0.8,4e-12)(-0.3,1.5e-12)
(-0.15,1.6e-12)(-0.05,6.3e-12)(0.05,3.2e-11)(0.15,1.26e-10)(0.25,1.26e-9)(0.35,1e-8)(0.45,2.2e-8)(0.55,4e-8)(0.65,6.3e-8)(0.75,8.9e-8)(0.85,1.17e-7)(0.95,1.5e-7)(1.05,1.9e-7)(1.25,3.2e-7)(1.45,5e-7)(1.85,1e-6)(2.25,1.65e-6)(2.65,2.6e-6)(3.05,3.9e-6)(3.45,5.5e-6)(3.95,8.2e-6)(4.45,1.09e-5)(4.95,1.45e-5)(5.45,1.9e-5)(5.95,2.4e-5)(6.45,2.9e-5)(6.95,3.45e-5)(7.45,4.1e-5)(7.95,4.8e-5)(8.45,5.5e-5)(8.95,6.3e-5)(9.45,7.2e-5)(9.95,8.2e-5)(10.45,9.1e-5)(10.95,1.02e-4)(11.45,1.15e-4)(11.95,1.27e-4)(12.45,1.38e-4)(12.95,1.52e-4)(13.45,1.67e-4)(13.95,1.82e-4)(14.45,1.96e-4)(14.95,2.09e-4)(15.45,2.2e-4)};
\addlegendentry{3600s}
\addplot[s7] coordinates {(-14.5,5e-12)(-14,2e-12)(-13.4,6e-12)(-12.8,2.5e-12)(-12.2,5e-12)(-11.6,1.5e-12)(-11,6e-12)(-10.4,2e-12)(-9.8,5e-12)(-9.2,1.2e-12)(-8.6,4e-12)(-8,2e-12)(-7.4,6e-12)(-6.8,1.5e-12)(-6.2,5e-12)(-5.6,2e-12)(-5,4e-12)(-4.4,1.2e-12)(-3.8,5e-12)(-3.2,2e-12)(-2.6,6e-12)(-2,1.5e-12)(-1.4,4e-12)(-0.8,2e-12)(-0.45,5e-12)
(-0.35,1.6e-12)(-0.25,6.3e-12)(-0.15,3.2e-11)(-0.05,1.26e-10)(0.05,1.26e-9)(0.15,1e-8)(0.25,2.2e-8)(0.35,4e-8)(0.45,6.3e-8)(0.55,8.9e-8)(0.65,1.17e-7)(0.75,1.5e-7)(0.85,1.9e-7)(1.05,3.4e-7)(1.25,5.5e-7)(1.65,1.2e-6)(2.05,1.95e-6)(2.45,3.1e-6)(2.85,4.6e-6)(3.25,6.5e-6)(3.75,9.6e-6)(4.25,1.28e-5)(4.75,1.7e-5)(5.25,2.24e-5)(5.75,2.84e-5)(6.25,3.4e-5)(6.75,4.05e-5)(7.25,4.8e-5)(7.75,5.7e-5)(8.25,6.5e-5)(8.75,7.4e-5)(9.25,8.5e-5)(9.75,9.6e-5)(10.25,1.07e-4)(10.75,1.2e-4)(11.25,1.35e-4)(11.75,1.49e-4)(12.25,1.62e-4)(12.75,1.78e-4)(13.25,1.96e-4)(13.75,2.13e-4)(14.25,2.3e-4)(14.75,2.46e-4)(15.25,2.6e-4)(15.75,2.75e-4)};
\addlegendentry{7200s}
\end{axis}

% ---------------- b, right: ZTO/IZO, negative bias stress
\begin{axis}[at={(211.5pt,-176.5pt)}, anchor=north west,
  scale only axis, width=122.5pt, height=131pt,
  xmin=-15.5, xmax=14.8, xtick={-15,-10,-5,0,5,10}, minor x tick num=1,
  ymode=log, ymin=1e-12, ymax=1e-3,
  ytick={1e-12,1e-11,1e-10,1e-9,1e-8,1e-7,1e-6,1e-5,1e-4,1e-3},
  yticklabels={10\sups{-12},10\sups{-11},10\sups{-10},10\sups{-9},10\sups{-8},10\sups{-7},10\sups{-6},10\sups{-5},10\sups{-4},10\sups{-3}},
  tick pos=left, tick align=outside,
  axis line style={line width=0.9pt},
  major tick style={black, line width=0.7pt}, minor tick style={black, line width=0.5pt},
  major tick length=2.5pt, minor tick length=1.4pt,
  ticklabel style={font=\bfseries\fontsize{10.5}{12}\selectfont},
  label style={font=\bfseries\fontsize{11.5}{13}\selectfont},
  xlabel={V\textsubscript{GS} (V)}, ylabel={I\textsubscript{DS} (A)},
  ylabel style={at={(axis description cs:-0.285,0.46)}, anchor=center},
  every axis plot/.append style={line width=0.45pt, mark size=1.3pt},
  legend cell align=left,
  legend style={draw=none, fill=none, inner sep=0pt, at={(0.985,0.025)}, anchor=south east,
    font=\bfseries\fontsize{6.7}{7}\selectfont, row sep=0pt, nodes={inner sep=1.2pt}},
  legend image code/.code={\draw[mark repeat=2,mark phase=2,#1] plot coordinates {(0pt,0pt)(7.5pt,0pt)(15pt,0pt)};},
]
\node[anchor=west, font=\bfseries\fontsize{9}{10}\selectfont] at (rel axis cs:0.053,0.905) {ZTO /IZO (5nm)};
\addplot[s0] coordinates {(-15.5,2e-11)(-15,1.2e-11)(-14.5,9e-12)(-14,1e-11)(-13.5,6e-12)(-13,8e-12)(-12,4e-12)(-11,2e-12)(-10,5e-12)(-9,2.5e-12)(-8,6e-12)(-7,2e-12)(-6,4e-12)(-5,1.5e-12)(-4,5e-12)(-3,2e-12)(-2,4e-12)(-1,2e-12)(-0.6,4e-12)
(-0.5,1.6e-12)(-0.4,1e-11)(-0.3,7.9e-11)(-0.2,6.3e-10)(-0.1,5e-9)(0,2.5e-8)(0.1,7.9e-8)(0.2,1.6e-7)(0.3,2.6e-7)(0.4,4e-7)(0.5,5.8e-7)(0.6,7.9e-7)(0.8,1.3e-6)(1,2e-6)(1.2,2.8e-6)(1.4,3.9e-6)(1.6,5e-6)(2,7.9e-6)(2.5,1.26e-5)(3,1.8e-5)(3.5,2.4e-5)(4,3e-5)(4.5,3.7e-5)(5,4.5e-5)(5.5,5.2e-5)(6,6.2e-5)(6.5,7.1e-5)(7,7.9e-5)(7.5,8.9e-5)(8,1e-4)(8.5,1.12e-4)(9,1.23e-4)(9.5,1.35e-4)(10,1.48e-4)(10.5,1.58e-4)(11,1.74e-4)(11.5,1.86e-4)(12,2e-4)(12.5,2.14e-4)(13,2.3e-4)(13.5,2.4e-4)(14,2.5e-4)(14.5,2.6e-4)(15,2.75e-4)};
\addlegendentry{Initial}
\addplot[s1] coordinates {(-15.5,5e-12)(-14.7,2e-12)(-13.9,6e-12)(-13.1,1.5e-12)(-12.3,5e-12)(-11.5,2.5e-12)(-10.7,6e-12)(-9.9,2e-12)(-9.1,5e-12)(-8.3,1.2e-12)(-7.5,4e-12)(-6.7,2e-12)(-5.9,6e-12)(-5.1,2e-12)(-4.3,5e-12)(-3.5,1.5e-12)(-2.7,4e-12)(-1.9,2e-12)(-1.1,5e-12)(-0.6,2e-12)
(-0.55,1.6e-12)(-0.45,1e-11)(-0.35,7.9e-11)(-0.25,6.3e-10)(-0.15,5e-9)(-0.05,2.5e-8)(0.05,7.9e-8)(0.15,1.6e-7)(0.25,2.6e-7)(0.35,4e-7)(0.45,5.8e-7)(0.55,7.9e-7)(0.75,1.3e-6)(0.95,2e-6)(1.15,2.8e-6)(1.35,3.9e-6)(1.55,5e-6)(1.95,7.9e-6)(2.45,1.26e-5)(2.95,1.8e-5)(3.45,2.4e-5)(3.95,3e-5)(4.45,3.7e-5)(4.95,4.5e-5)(5.45,5.2e-5)(5.95,6.2e-5)(6.45,7.1e-5)(6.95,7.9e-5)(7.45,8.9e-5)(7.95,1e-4)(8.45,1.12e-4)(8.95,1.23e-4)(9.45,1.35e-4)(9.95,1.48e-4)(10.45,1.58e-4)(10.95,1.74e-4)(11.45,1.86e-4)(11.95,2e-4)(12.45,2.14e-4)(12.95,2.3e-4)(13.45,2.4e-4)(13.95,2.5e-4)(14.45,2.6e-4)(14.95,2.75e-4)};
\addlegendentry{100s}
\addplot[s2] coordinates {(-15.5,4e-12)(-14.6,6e-12)(-13.8,2e-12)(-13,5e-12)(-12.2,8e-12)(-11.4,2e-12)(-10.6,4e-12)(-9.8,1.5e-12)(-9,6e-12)(-8.2,2.5e-12)(-7.4,5e-12)(-6.6,7e-12)(-5.8,2e-12)(-5,4e-12)(-4.2,1.2e-12)(-3.4,5e-12)(-2.6,2.5e-12)(-1.8,5e-12)(-1,2e-12)(-0.7,4e-12)
(-0.6,1.6e-12)(-0.5,1e-11)(-0.4,7.9e-11)(-0.3,6.3e-10)(-0.2,5e-9)(-0.1,2.5e-8)(0,7.9e-8)(0.1,1.6e-7)(0.2,2.6e-7)(0.3,4e-7)(0.4,5.8e-7)(0.5,7.9e-7)(0.7,1.3e-6)(0.9,2e-6)(1.1,2.8e-6)(1.3,3.9e-6)(1.5,5e-6)(1.9,7.9e-6)(2.4,1.26e-5)(2.9,1.8e-5)(3.4,2.4e-5)(3.9,3e-5)(4.4,3.7e-5)(4.9,4.5e-5)(5.4,5.2e-5)(5.9,6.2e-5)(6.4,7.1e-5)(6.9,7.9e-5)(7.4,8.9e-5)(7.9,1e-4)(8.4,1.12e-4)(8.9,1.23e-4)(9.4,1.35e-4)(9.9,1.48e-4)(10.4,1.58e-4)(10.9,1.74e-4)(11.4,1.86e-4)(11.9,2e-4)(12.4,2.14e-4)(12.9,2.3e-4)(13.4,2.4e-4)(13.9,2.5e-4)(14.4,2.6e-4)(14.9,2.75e-4)};
\addlegendentry{300s}
\addplot[s3] coordinates {(-15.5,3e-12)(-14.7,5e-12)(-13.9,1.5e-12)(-13.1,4e-12)(-12.3,2e-12)(-11.5,6e-12)(-10.7,1.5e-12)(-9.9,5e-12)(-9.1,2e-12)(-8.3,6e-12)(-7.5,2.5e-12)(-6.7,4e-12)(-5.9,1.2e-12)(-5.1,5e-12)(-4.3,2e-12)(-3.5,6e-12)(-2.7,2e-12)(-1.9,5e-12)(-1.1,1.5e-12)(-0.7,4e-12)
(-0.6,1.6e-12)(-0.5,1e-11)(-0.4,7.9e-11)(-0.3,6.3e-10)(-0.2,5e-9)(-0.1,2.5e-8)(0,7.9e-8)(0.1,1.6e-7)(0.2,2.6e-7)(0.3,4e-7)(0.4,5.8e-7)(0.5,7.9e-7)(0.7,1.3e-6)(0.9,2e-6)(1.1,2.8e-6)(1.3,3.9e-6)(1.5,5e-6)(1.9,7.9e-6)(2.4,1.26e-5)(2.9,1.8e-5)(3.4,2.4e-5)(3.9,3e-5)(4.4,3.7e-5)(4.9,4.5e-5)(5.4,5.2e-5)(5.9,6.2e-5)(6.4,7.1e-5)(6.9,7.9e-5)(7.4,8.9e-5)(7.9,1e-4)(8.4,1.12e-4)(8.9,1.23e-4)(9.4,1.35e-4)(9.9,1.48e-4)(10.4,1.58e-4)(10.9,1.74e-4)(11.4,1.86e-4)(11.9,2e-4)(12.4,2.14e-4)(12.9,2.3e-4)(13.4,2.4e-4)(13.9,2.5e-4)(14.4,2.6e-4)(14.9,2.75e-4)};
\addlegendentry{600s}
\addplot[s4] coordinates {(-15.5,5e-12)(-14.6,2.5e-12)(-13.8,5e-12)(-13,2e-12)(-12.2,4e-12)(-11.4,5e-12)(-10.6,2e-12)(-9.8,6e-12)(-9,1.5e-12)(-8.2,4e-12)(-7.4,2e-12)(-6.6,5e-12)(-5.8,2.5e-12)(-5,6e-12)(-4.2,2e-12)(-3.4,4e-12)(-2.6,1.5e-12)(-1.8,4e-12)(-1,2e-12)(-0.7,4e-12)
(-0.65,1.6e-12)(-0.55,1e-11)(-0.45,7.9e-11)(-0.35,6.3e-10)(-0.25,5e-9)(-0.15,2.5e-8)(-0.05,7.9e-8)(0.05,1.6e-7)(0.15,2.6e-7)(0.25,4e-7)(0.35,5.8e-7)(0.45,7.9e-7)(0.65,1.3e-6)(0.85,2e-6)(1.05,2.8e-6)(1.25,3.9e-6)(1.45,5e-6)(1.85,7.9e-6)(2.35,1.26e-5)(2.85,1.8e-5)(3.35,2.4e-5)(3.85,3e-5)(4.35,3.7e-5)(4.85,4.5e-5)(5.35,5.2e-5)(5.85,6.2e-5)(6.35,7.1e-5)(6.85,7.9e-5)(7.35,8.9e-5)(7.85,1e-4)(8.35,1.12e-4)(8.85,1.23e-4)(9.35,1.35e-4)(9.85,1.48e-4)(10.35,1.58e-4)(10.85,1.74e-4)(11.35,1.86e-4)(11.85,2e-4)(12.35,2.14e-4)(12.85,2.3e-4)(13.35,2.4e-4)(13.85,2.5e-4)(14.35,2.6e-4)(14.85,2.75e-4)};
\addlegendentry{1200s}
\addplot[s5] coordinates {(-15.5,4e-12)(-14.7,1.5e-12)(-13.9,5e-12)(-13.1,2e-12)(-12.3,6e-12)(-11.5,1.5e-12)(-10.7,4e-12)(-9.9,2e-12)(-9.1,5e-12)(-8.3,1.5e-12)(-7.5,6e-12)(-6.7,2e-12)(-5.9,4e-12)(-5.1,1.2e-12)(-4.3,5e-12)(-3.5,2e-12)(-2.7,6e-12)(-1.9,1.5e-12)(-1.1,4e-12)(-0.75,2e-12)
(-0.65,1.6e-12)(-0.55,1e-11)(-0.45,7.9e-11)(-0.35,6.3e-10)(-0.25,5e-9)(-0.15,2.5e-8)(-0.05,7.9e-8)(0.05,1.6e-7)(0.15,2.6e-7)(0.25,4e-7)(0.35,5.8e-7)(0.45,7.9e-7)(0.65,1.3e-6)(0.85,2e-6)(1.05,2.8e-6)(1.25,3.9e-6)(1.45,5e-6)(1.85,7.9e-6)(2.35,1.26e-5)(2.85,1.8e-5)(3.35,2.4e-5)(3.85,3e-5)(4.35,3.7e-5)(4.85,4.5e-5)(5.35,5.2e-5)(5.85,6.2e-5)(6.35,7.1e-5)(6.85,7.9e-5)(7.35,8.9e-5)(7.85,1e-4)(8.35,1.12e-4)(8.85,1.23e-4)(9.35,1.35e-4)(9.85,1.48e-4)(10.35,1.58e-4)(10.85,1.74e-4)(11.35,1.86e-4)(11.85,2e-4)(12.35,2.14e-4)(12.85,2.3e-4)(13.35,2.4e-4)(13.85,2.5e-4)(14.35,2.6e-4)(14.85,2.75e-4)};
\addlegendentry{2100s}
\addplot[s6] coordinates {(-15.5,2e-12)(-14.6,4e-12)(-13.8,1.2e-12)(-13,5e-12)(-12.2,8e-13)(-11.4,4e-12)(-10.6,1.5e-12)(-9.8,5e-12)(-9,8e-13)(-8.2,4e-12)(-7.4,2e-12)(-6.6,6e-12)(-5.8,1.5e-12)(-5,4e-12)(-4.2,8e-13)(-3.4,5e-12)(-2.6,1.5e-12)(-1.8,4e-12)(-1,1.2e-12)(-0.8,3e-12)
(-0.7,1.6e-12)(-0.6,1e-11)(-0.5,7.9e-11)(-0.4,6.3e-10)(-0.3,5e-9)(-0.2,2.5e-8)(-0.1,7.9e-8)(0,1.6e-7)(0.1,2.6e-7)(0.2,4e-7)(0.3,5.8e-7)(0.4,7.9e-7)(0.6,1.3e-6)(0.8,2e-6)(1,2.8e-6)(1.2,3.9e-6)(1.4,5e-6)(1.8,7.9e-6)(2.3,1.26e-5)(2.8,1.8e-5)(3.3,2.4e-5)(3.8,3e-5)(4.3,3.7e-5)(4.8,4.5e-5)(5.3,5.2e-5)(5.8,6.2e-5)(6.3,7.1e-5)(6.8,7.9e-5)(7.3,8.9e-5)(7.8,1e-4)(8.3,1.12e-4)(8.8,1.23e-4)(9.3,1.35e-4)(9.8,1.48e-4)(10.3,1.58e-4)(10.8,1.74e-4)(11.3,1.86e-4)(11.8,2e-4)(12.3,2.14e-4)(12.8,2.3e-4)(13.3,2.4e-4)(13.8,2.5e-4)(14.3,2.6e-4)(14.8,2.75e-4)};
\addlegendentry{3600s}
\addplot[s7] coordinates {(-15.5,5e-12)(-15,2e-12)(-14.4,6e-12)(-13.8,1.5e-12)(-13.2,5e-12)(-12.6,2e-12)(-12,5e-12)(-11.4,1.5e-12)(-10.8,6e-12)(-10.2,2e-12)(-9.6,4e-12)(-9,1.2e-12)(-8.4,5e-12)(-7.8,2e-12)(-7.2,6e-12)(-6.6,1.5e-12)(-6,5e-12)(-5.4,2e-12)(-4.8,4e-12)(-4.2,1.2e-12)(-3.6,5e-12)(-3,2e-12)(-2.4,6e-12)(-1.8,1.5e-12)(-1.2,4e-12)(-0.9,2e-12)
(-0.8,1.6e-12)(-0.7,1e-11)(-0.6,7.9e-11)(-0.5,6.3e-10)(-0.4,5e-9)(-0.3,2.5e-8)(-0.2,7.9e-8)(-0.1,1.6e-7)(0,2.6e-7)(0.1,4e-7)(0.2,5.8e-7)(0.3,7.9e-7)(0.5,1.35e-6)(0.7,2.1e-6)(0.9,3e-6)(1.1,4.3e-6)(1.3,5.6e-6)(1.7,9.5e-6)(2.2,1.5e-5)(2.7,2.2e-5)(3.2,2.9e-5)(3.7,3.6e-5)(4.2,4.4e-5)(4.7,5.4e-5)(5.2,6.2e-5)(5.7,7.4e-5)(6.2,8.5e-5)(6.7,9.5e-5)(7.2,1.07e-4)(7.7,1.2e-4)(8.2,1.34e-4)(8.7,1.48e-4)(9.2,1.62e-4)(9.7,1.78e-4)(10.2,1.9e-4)(10.7,2.09e-4)(11.2,2.23e-4)(11.7,2.4e-4)(12.2,2.57e-4)(12.7,2.76e-4)(13.2,2.88e-4)(13.7,3e-4)(14.2,3.12e-4)(14.7,3.3e-4)(15.2,3.4e-4)};
\addlegendentry{7200s}
\end{axis}

% ---------------- c: threshold voltage shift vs stress time
\begin{axis}[at={(119pt,-355pt)}, anchor=north west,
  scale only axis, width=140pt, height=148pt,
  xmode=log, xmin=0.45, xmax=12450,
  xtick={1,10,100,1000,10000},
  xticklabels={10\sups{0},10\sups{1},10\sups{2},10\sups{3},10\sups{4}},
  ymin=-1.5, ymax=2.5, ytick={-1.5,-1,-0.5,0,0.5,1,1.5,2,2.5}, minor y tick num=1,
  yticklabels={-1.5,-1.0,-0.5,0.0,0.5,1.0,1.5,2.0,2.5},
  tick pos=left, tick align=outside,
  axis line style={line width=0.9pt},
  major tick style={black, line width=0.7pt}, minor tick style={black, line width=0.5pt},
  major tick length=2.5pt, minor tick length=1.4pt,
  ticklabel style={font=\bfseries\fontsize{8.8}{10}\selectfont},
  label style={font=\bfseries\fontsize{11.3}{13}\selectfont},
  xlabel={Stress time (s)}, ylabel={ΔV\textsubscript{th} (V)},
  every axis plot/.append style={line width=0.65pt, mark size=2pt},
  legend cell align=left,
  legend style={draw=none, fill=none, inner sep=0pt, at={(0.016,0.988)}, anchor=north west,
    font=\bfseries\fontsize{7.6}{8}\selectfont, row sep=0pt, nodes={inner sep=1.25pt}},
]
\addlegendimage{legend image code/.code={
  \draw[red,line width=0.65pt,mark=square*,mark size=1.4pt,mark options={fill=white},mark repeat=2,mark phase=2] plot coordinates {(0pt,0pt)(9pt,0pt)(18pt,0pt)};
  \draw[red,line width=0.65pt,mark=square*,mark size=1.4pt,mark repeat=2,mark phase=2] plot coordinates {(20pt,0pt)(29pt,0pt)(38pt,0pt)};}}
\addlegendentry{ZTO (Reference)}
\addlegendimage{legend image code/.code={
  \draw[corange,line width=0.65pt,mark=*,mark size=1.6pt,mark options={fill=white},mark repeat=2,mark phase=2] plot coordinates {(0pt,0pt)(9pt,0pt)(18pt,0pt)};
  \draw[corange,line width=0.65pt,mark=*,mark size=1.6pt,mark repeat=2,mark phase=2] plot coordinates {(20pt,0pt)(29pt,0pt)(38pt,0pt)};}}
\addlegendentry{ZTO/IZO(2.5nm)}
\addlegendimage{legend image code/.code={
  \draw[colive,line width=0.45pt,mark=triangle*,mark size=1.8pt,mark options={fill=white},mark repeat=2,mark phase=2] plot coordinates {(0pt,0pt)(9pt,0pt)(18pt,0pt)};
  \draw[colive,line width=0.65pt,mark=triangle*,mark size=1.8pt,mark repeat=2,mark phase=2] plot coordinates {(20pt,0pt)(29pt,0pt)(38pt,0pt)};}}
\addlegendentry{ZTO/IZO(3.6nm)}
\addlegendimage{legend image code/.code={
  \draw[cteallight,line width=0.55pt,mark=triangle*,mark size=1.8pt,mark options={fill=white,rotate=180},mark repeat=2,mark phase=2] plot coordinates {(0pt,0pt)(9pt,0pt)(18pt,0pt)};
  \draw[cteal,line width=0.65pt,mark=triangle*,mark size=1.8pt,mark options={rotate=180},mark repeat=2,mark phase=2] plot coordinates {(20pt,0pt)(29pt,0pt)(38pt,0pt)};}}
\addlegendentry{ZTO/IZO(5.0nm)}
\addlegendimage{legend image code/.code={
  \draw[cpurp,line width=0.65pt,mark=diamond*,mark size=1.8pt,mark options={fill=white},mark repeat=2,mark phase=2] plot coordinates {(0pt,0pt)(9pt,0pt)(18pt,0pt)};
  \draw[cpurp,line width=0.65pt,mark=diamond*,mark size=1.8pt,mark repeat=2,mark phase=2] plot coordinates {(20pt,0pt)(29pt,0pt)(38pt,0pt)};}}
\addlegendentry{ZTO/IZO(6.3nm)}
\addlegendimage{legend image code/.code={
  \draw[cblue,line width=0.65pt,mark=triangle*,mark size=1.8pt,mark options={fill=white,rotate=90},mark repeat=2,mark phase=2] plot coordinates {(0pt,0pt)(9pt,0pt)(18pt,0pt)};
  \draw[cblue,line width=0.65pt,mark=triangle*,mark size=1.8pt,mark options={rotate=90},mark repeat=2,mark phase=2] plot coordinates {(20pt,0pt)(29pt,0pt)(38pt,0pt)};}}
\addlegendentry{ZTO/IZO(8.1nm)}
% open symbols: positive bias stress
\addplot[forget plot, red, mark=square*, mark size=1.8pt, mark options={fill=white}] coordinates {(1,0)(100,0.15)(300,0.31)(600,0.50)(1200,0.79)(2100,1.13)(3600,1.53)(7200,2.19)};
\addplot[forget plot, corange, mark=*, mark options={fill=white}] coordinates {(1,0)(100,0.06)(300,0.13)(600,0.25)(1200,0.41)(2100,0.61)(3600,1.07)(7200,1.84)};
\addplot[forget plot, colive, line width=0.45pt, mark=triangle*, mark size=2.2pt, mark options={fill=white}] coordinates {(1,0)(100,0.04)(300,0.11)(600,0.23)(1200,0.37)(2100,0.58)(3600,0.87)(7200,1.57)};
\addplot[forget plot, cteal, line width=0.45pt, mark=triangle*, mark size=2.2pt, mark options={fill=white,rotate=180}] coordinates {(1,0)(100,0.04)(300,0.11)(600,0.21)(1200,0.32)(2100,0.50)(3600,0.72)(7200,1.18)};
\addplot[forget plot, cpurp, mark=diamond*, mark size=2.2pt, mark options={fill=white}] coordinates {(1,0)(100,0)(300,0)(600,0.01)(1200,0.03)(2100,0.05)(3600,0.09)(7200,0.14)};
\addplot[forget plot, cblue, mark=triangle*, mark size=2.2pt, mark options={fill=white,rotate=90}] coordinates {(1,0)(100,0)(300,0)(600,0.01)(1200,0.03)(2100,0.08)(3600,0.13)(7200,0.22)};
% filled symbols: negative bias stress
\addplot[forget plot, red, mark=square*, mark size=1.8pt] coordinates {(1,0)(100,-0.08)(300,-0.17)(600,-0.25)(1200,-0.32)(2100,-0.44)(3600,-0.55)(7200,-0.71)};
\addplot[forget plot, corange, mark=*] coordinates {(1,0)(100,-0.04)(300,-0.08)(600,-0.12)(1200,-0.19)(2100,-0.28)(3600,-0.40)(7200,-0.59)};
\addplot[forget plot, colive, mark=triangle*, mark size=2.2pt] coordinates {(1,0)(100,-0.03)(300,-0.07)(600,-0.10)(1200,-0.14)(2100,-0.19)(3600,-0.30)(7200,-0.47)};
\addplot[forget plot, cteal, mark=triangle*, mark size=2.2pt, mark options={rotate=180}] coordinates {(1,0)(100,-0.03)(300,-0.08)(600,-0.10)(1200,-0.13)(2100,-0.17)(3600,-0.21)(7200,-0.30)};
\addplot[forget plot, cpurp, mark=diamond*, mark size=2.2pt] coordinates {(1,0)(100,-0.04)(300,-0.12)(600,-0.18)(1200,-0.25)(2100,-0.35)(3600,-0.46)(7200,-0.71)};
\addplot[forget plot, cblue, mark=triangle*, mark size=2.2pt, mark options={rotate=90}] coordinates {(1,0)(100,-0.08)(300,-0.18)(600,-0.30)(1200,-0.43)(2100,-0.56)(3600,-0.75)(7200,-1.01)};
\end{axis}
\end{tikzpicture}
\end{document}
